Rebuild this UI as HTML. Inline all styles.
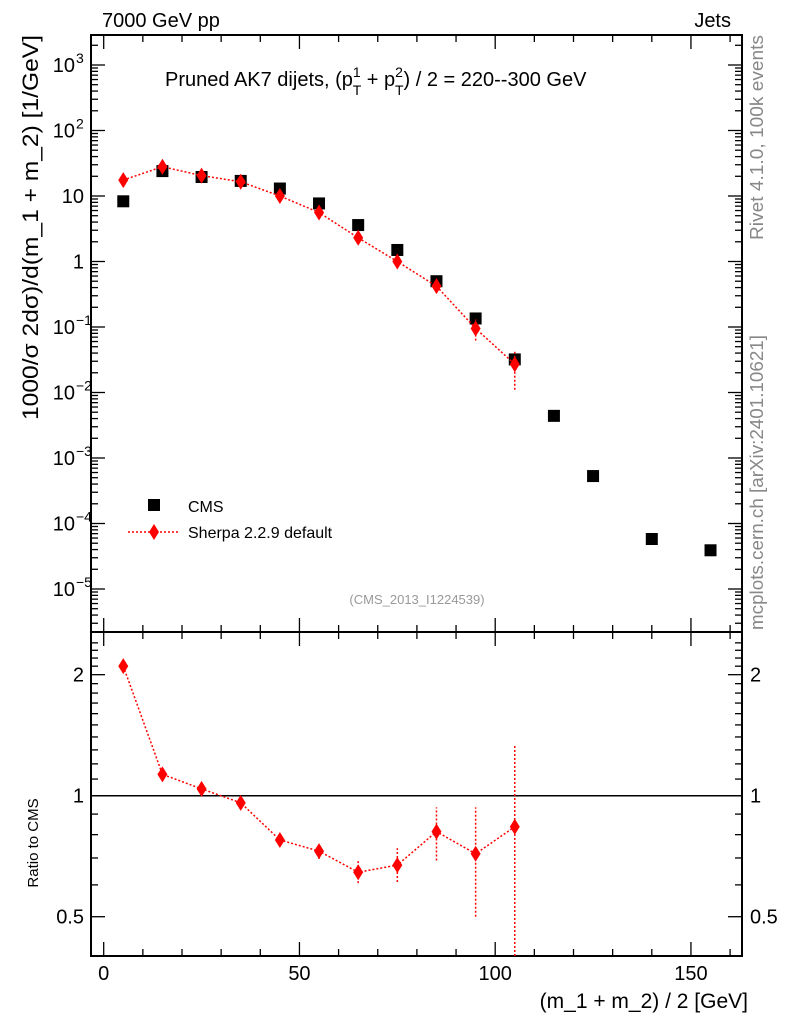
<!DOCTYPE html>
<html><head><meta charset="utf-8"><style>
body{margin:0;background:#fff}
svg{display:block;font-family:"Liberation Sans",sans-serif}
</style></head><body>
<svg id="c" width="786" height="1024"></svg>
<script>
const cmsX=[5,15,25,35,45,55,65,75,85,95,105,115,125,140,155];
const cmsY=[8.3,24,19.5,17,13,7.7,3.6,1.5,0.5,0.135,0.032,0.0044,0.00053,0.000058,0.000039];
const shX=[5,15,25,35,45,55,65,75,85,95,105];
const shY=[17.5,28,20.5,16.5,10,5.6,2.3,1.0,0.42,0.095,0.027];
const shLo=[17.2,27.5,20,16.2,9.7,5.3,2.1,0.9,0.36,0.062,0.011];
const shHi=[17.8,28.5,21,16.8,10.3,5.9,2.5,1.1,0.48,0.13,0.042];
const ratio=[2.10,1.13,1.04,0.96,0.776,0.728,0.645,0.672,0.814,0.717,0.837];
const rLo=[2.08,1.11,1.02,0.94,0.76,0.696,0.606,0.61,0.69,0.5,0.3];
const rHi=[2.12,1.15,1.06,0.98,0.79,0.76,0.688,0.74,0.935,0.935,1.33];
const xTicks=[0,50,100,150];
const ns="http://www.w3.org/2000/svg";
const svg=document.getElementById('c');
function el(t,a,p){const e=document.createElementNS(ns,t);for(const k in a)e.setAttribute(k,a[k]);(p||svg).appendChild(e);return e;}
const L=91,R=742,T=35,M=632,B=956;
const X=v=>103.7+3.915*v;
const Y=v=>261.5-65.5*Math.log10(v);
const RY=v=>795.7-402*Math.log10(v);
let f1=el('rect',{x:L,y:T,width:R-L,height:M-T,fill:'none',stroke:'#000','stroke-width':2});

let f2=el('rect',{x:L,y:M,width:R-L,height:B-M,fill:'none',stroke:'#000','stroke-width':2});

for(let v=0;v<=160;v+=10){const maj=v%50==0,len=maj?14:7,x=X(v);
 for(const [y0,d] of [[T,1],[M,-1],[M,1],[B,-1]]) el('line',{x1:x,x2:x,y1:y0,y2:y0+d*len,stroke:'#000','stroke-width':1.3});}
xTicks.forEach(v=>{const t=el('text',{x:X(v),y:980,'font-size':20,'text-anchor':'middle'});t.textContent=v;
 });
for(let e=-6;e<=3;e++)for(let m=1;m<10;m++){const v=m*Math.pow(10,e),y=Y(v);if(y<T||y>M)continue;const len=m==1?14:7;
 el('line',{x1:L,x2:L+len,y1:y,y2:y,stroke:'#000','stroke-width':1.3});el('line',{x1:R,x2:R-len,y1:y,y2:y,stroke:'#000','stroke-width':1.3});}
const yLab=[[3,'10','3'],[2,'10','2'],[1,'10',''],[0,'1',''],[-1,'10','−1'],[-2,'10','−2'],[-3,'10','−3'],[-4,'10','−4'],[-5,'10','−5']];
yLab.forEach(([e,b,s])=>{const y=Y(Math.pow(10,e))+7;const t=el('text',{x:s?75:84,y:y,'font-size':20,'text-anchor':'end'});t.textContent=b;
 
 if(s){const u=el('text',{x:76,y:y-9,'font-size':14});u.textContent=s;}});
for(let v=0.4;v<=2.5;v+=0.1){const y=RY(v);if(y<M||y>B)continue;const maj=Math.abs(v-0.5)<1e-6||Math.abs(v-1)<1e-6||Math.abs(v-2)<1e-6;const len=maj?14:7;
 el('line',{x1:L,x2:L+len,y1:y,y2:y,stroke:'#000','stroke-width':1.3});el('line',{x1:R,x2:R-len,y1:y,y2:y,stroke:'#000','stroke-width':1.3});}
[[2,'2'],[1,'1'],[0.5,'0.5']].forEach(([v,s])=>{const y=RY(v)+7;
 let t=el('text',{x:84,y:y,'font-size':20,'text-anchor':'end'});t.textContent=s;
 t=el('text',{x:750,y:y,'font-size':20});t.textContent=s;});
el('line',{x1:L,x2:R,y1:RY(1),y2:RY(1),stroke:'#000','stroke-width':1.5});
cmsX.forEach((x,i)=>{const r=el('rect',{x:X(x)-6,y:Y(cmsY[i])-6,width:12,height:12,fill:'#000'});
 });
const dia=(cx,cy)=>`M${cx},${cy-8}L${cx+5},${cy}L${cx},${cy+8}L${cx-5},${cy}Z`;
el('polyline',{points:shX.map((x,i)=>X(x)+','+Y(shY[i])).join(' '),fill:'none',stroke:'red','stroke-width':1.5,'stroke-dasharray':'2,2'});
shX.forEach((x,i)=>{el('line',{x1:X(x),x2:X(x),y1:Y(shLo[i]),y2:Y(shHi[i]),stroke:'red','stroke-width':1.5,'stroke-dasharray':'2,2'});
 const p=el('path',{d:dia(X(x),Y(shY[i])),fill:'red'});});
el('polyline',{points:shX.map((x,i)=>X(x)+','+RY(ratio[i])).join(' '),fill:'none',stroke:'red','stroke-width':1.5,'stroke-dasharray':'2,2'});
shX.forEach((x,i)=>{el('line',{x1:X(x),x2:X(x),y1:Math.min(B,RY(rLo[i])),y2:RY(rHi[i]),stroke:'red','stroke-width':1.5,'stroke-dasharray':'2,2'});
 const p=el('path',{d:dia(X(x),RY(ratio[i])),fill:'red'});});
</script>
<svg width="786" height="1024" style="position:absolute;left:0;top:0" font-family="Liberation Sans, sans-serif">
<text x="102" y="27" font-size="20">7000 GeV pp</text>
<text x="731" y="27" font-size="20" text-anchor="end">Jets</text>
<text x="165" y="86" font-size="20">Pruned AK7 dijets, (p<tspan font-size="14" dy="-9">1</tspan><tspan font-size="14" dx="-8" dy="18">T</tspan><tspan dy="-9"> + p</tspan><tspan font-size="14" dy="-9">2</tspan><tspan font-size="14" dx="-8" dy="18">T</tspan><tspan dy="-9">) / 2 = 220--300 GeV</tspan></text>
<text transform="translate(38,420) rotate(-90)" font-size="22" textLength="385" lengthAdjust="spacingAndGlyphs">1000/σ   2dσ)/d(m_1 + m_2) [1/GeV]</text>
<text transform="translate(38,843) rotate(-90)" font-size="15" text-anchor="middle">Ratio to CMS</text>
<text x="748" y="1008" font-size="21" text-anchor="end">(m_1 + m_2) / 2 [GeV]</text>
<text transform="translate(763,240) rotate(-90)" font-size="18" fill="#888" textLength="205" lengthAdjust="spacingAndGlyphs">Rivet 4.1.0,  100k events</text>
<text transform="translate(763,630) rotate(-90)" font-size="18" fill="#888" textLength="295" lengthAdjust="spacingAndGlyphs">mcplots.cern.ch [arXiv:2401.10621]</text>
<text x="417" y="604" font-size="13" fill="#999" text-anchor="middle">(CMS_2013_I1224539)</text>
<g>
<rect x="148" y="499" width="12" height="12" fill="#000"/>
<text x="188" y="512" font-size="16">CMS</text>
<line x1="128" x2="180" y1="532" y2="532" stroke="red" stroke-width="1.5" stroke-dasharray="2,2"/>
<path d="M154,524L159,532L154,540L149,532Z" fill="red"/>
<text x="188" y="538" font-size="16">Sherpa 2.2.9 default</text>
</g>
</svg>
</body></html>
